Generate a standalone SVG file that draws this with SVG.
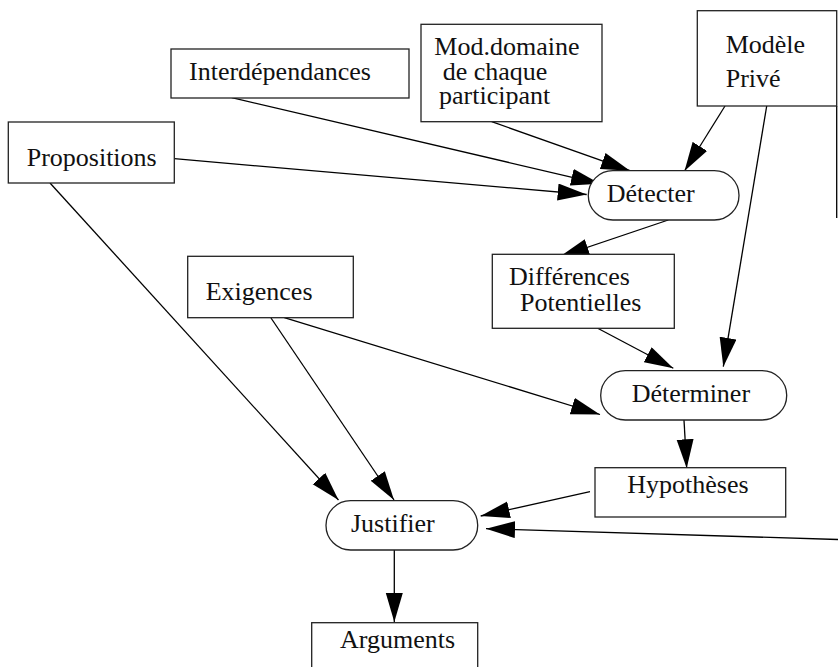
<svg xmlns="http://www.w3.org/2000/svg" width="838" height="667" viewBox="0 0 838 667">
  <style>
    .box { fill: #fff; stroke: #222; stroke-width: 1.3; }
    .lbl { font-family: "Liberation Serif", "Times New Roman", serif; font-size: 26px; fill: #111; }
    .edge { fill: none; stroke: #000; stroke-width: 1.3; }
    .arr { marker-end: url(#head); }
  </style>
  <defs>
    <marker id="head" markerUnits="userSpaceOnUse" markerWidth="30" markerHeight="18" refX="29" refY="8.5" orient="auto">
      <path d="M0,0 L29,8.5 L0,17 z" fill="#000"/>
    </marker>
  </defs>

  <g id="connectors">
    <line class="edge arr" x1="231.7" y1="97.7" x2="600" y2="183.8"/>
    <line class="edge arr" x1="174.3" y1="158.7" x2="586.7" y2="194.5"/>
    <line class="edge arr" x1="491.7" y1="121.7" x2="630" y2="170.7"/>
    <line class="edge arr" x1="725" y1="106" x2="684.5" y2="171"/>
    <line class="edge arr" x1="668.3" y1="220" x2="560" y2="256.5"/>
    <line class="edge arr" x1="597.7" y1="328.3" x2="673.3" y2="368.3"/>
    <line class="edge arr" x1="766.7" y1="106" x2="723.3" y2="366.7"/>
    <line class="edge arr" x1="284.3" y1="317.7" x2="600" y2="414.5"/>
    <line class="edge arr" x1="684" y1="420" x2="686.7" y2="468.3"/>
    <line class="edge arr" x1="50" y1="183" x2="338.5" y2="500"/>
    <line class="edge arr" x1="271" y1="318" x2="394" y2="500"/>
    <line class="edge arr" x1="590" y1="491.7" x2="480.7" y2="516"/>
    <line class="edge" x1="836.7" y1="106" x2="836.7" y2="218"/>
    <line class="edge arr" x1="838" y1="539.5" x2="486" y2="528.7"/>
    <line class="edge arr" x1="394.3" y1="550" x2="394.3" y2="622"/>
  </g>

  <g id="interdependances">
    <rect class="box" x="171" y="49" width="238" height="49"/>
    <text class="lbl" x="189" y="80">Interdépendances</text>
  </g>
  <g id="propositions">
    <rect class="box" x="8.3" y="122" width="166" height="61"/>
    <text class="lbl" x="26.7" y="165.7">Propositions</text>
  </g>
  <g id="mod-domaine">
    <rect class="box" x="421" y="24.3" width="181" height="97.4"/>
    <text class="lbl" x="434.3" y="55">Mod.domaine</text>
    <text class="lbl" x="442.7" y="79.5">de chaque</text>
    <text class="lbl" x="439" y="103.8">participant</text>
  </g>
  <g id="modele-prive">
    <rect class="box" x="697.3" y="10.7" width="139.4" height="95.3"/>
    <text class="lbl" x="725.7" y="53.3">Modèle</text>
    <text class="lbl" x="725.7" y="87.3">Privé</text>
  </g>
  <g id="detecter">
    <rect class="box" x="588.3" y="170.7" width="150.7" height="49.3" rx="24.6" ry="24.6"/>
    <text class="lbl" x="606.7" y="201.7">Détecter</text>
  </g>
  <g id="differences">
    <rect class="box" x="492.3" y="254.3" width="182" height="74"/>
    <text class="lbl" x="509" y="285">Différences</text>
    <text class="lbl" x="520" y="310.7">Potentielles</text>
  </g>
  <g id="exigences">
    <rect class="box" x="187.7" y="256.3" width="165.6" height="61.4"/>
    <text class="lbl" x="205.7" y="300">Exigences</text>
  </g>
  <g id="determiner">
    <rect class="box" x="600.7" y="370.7" width="186" height="49.3" rx="24.6" ry="24.6"/>
    <text class="lbl" x="631.7" y="401.7">Déterminer</text>
  </g>
  <g id="hypotheses">
    <rect class="box" x="595" y="467.7" width="190.7" height="49.3"/>
    <text class="lbl" x="627.3" y="493.3">Hypothèses</text>
  </g>
  <g id="justifier">
    <rect class="box" x="326" y="500.7" width="151.7" height="49.3" rx="24.6" ry="24.6"/>
    <text class="lbl" x="351" y="531.7">Justifier</text>
  </g>
  <g id="arguments">
    <rect class="box" x="311.7" y="622.7" width="166" height="60"/>
    <text class="lbl" x="340" y="648.3">Arguments</text>
  </g>
</svg>
